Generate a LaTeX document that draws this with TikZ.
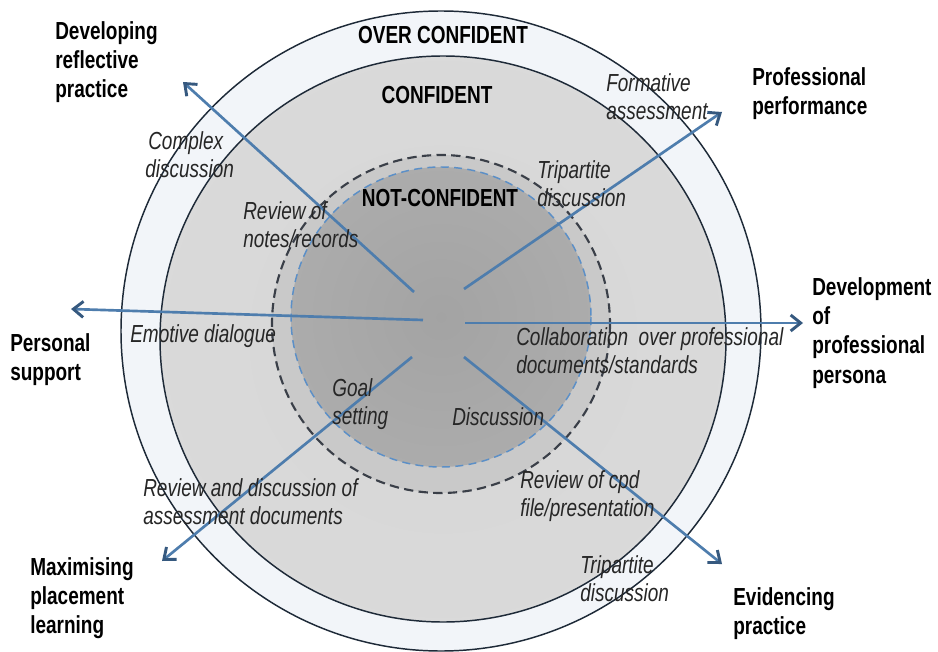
\documentclass[tikz,border=0pt]{standalone}
\usepackage{fontspec}
\setmainfont{Liberation Sans}
\newfontfamily\narrow[FakeStretch=0.77]{Liberation Sans}
\usetikzlibrary{arrows.meta}
\definecolor{ringfill}{HTML}{F2F5F9}
\definecolor{rimline}{HTML}{1E2A38}
\definecolor{midring}{HTML}{C9C9C9}
\definecolor{dashdark}{HTML}{3A3F48}
\definecolor{dashblue}{HTML}{5B8FC7}
\definecolor{arrowblue}{HTML}{4E7DAD}
\definecolor{arrowdark}{HTML}{36597F}
\pgfdeclareradialshading{confshade}{\pgfpointorigin}{rgb(0bp)=(0.84,0.84,0.84); rgb(38bp)=(0.86,0.86,0.86); rgb(50bp)=(0.90,0.90,0.90)}
\pgfdeclareradialshading{innershade}{\pgfpointorigin}{rgb(0bp)=(0.64,0.64,0.64); rgb(30bp)=(0.68,0.68,0.68); rgb(50bp)=(0.79,0.79,0.79)}
\tikzset{
  lbl/.style={font=\narrow\bfseries\fontsize{18.5}{22}\selectfont, align=left, anchor=north west, inner sep=0pt, text=black},
  zone/.style={font=\narrow\bfseries\fontsize{18.5}{21}\selectfont, inner sep=0pt, text=black},
  act/.style={font=\narrow\itshape\fontsize{18.5}{21}\selectfont, align=left, anchor=north west, inner sep=0pt, text=black!85},
  flow/.style={draw=arrowblue, line width=2pt, -{Straight Barb[length=7.5pt,width=12pt,line width=2.2pt,color=arrowdark]}},
  rim/.style={draw=rimline, line width=1.1pt},
}
\begin{document}
\begin{tikzpicture}[x=0.75pt,y=-0.75pt]
\useasboundingbox (0,0) rectangle (938,652);
% rings
\fill[ringfill] (441,331) circle [radius=320];
\draw[rim] (441,331) circle [radius=320];
\shade[shading=confshade] (443,339) circle [radius=283];
\draw[rim] (443,339) circle [radius=283];
\fill[midring] (441,324) circle [radius=169];
\shade[shading=innershade] (441,317) circle [radius=150];
\draw[dashdark, line width=1.6pt, dash pattern=on 7pt off 4pt] (441,324) circle [radius=169];
\draw[dashblue, line width=1.1pt, dash pattern=on 6pt off 4pt] (441,317) circle [radius=150];
% arrows
\coordinate (ul0) at (414,292); \coordinate (ul1) at (183,82);
\coordinate (ur0) at (464,289); \coordinate (ur1) at (722,112);
\coordinate (l0) at (423,320);  \coordinate (l1) at (71,309);
\coordinate (r0) at (465,323);  \coordinate (r1) at (803,323);
\coordinate (dl0) at (412,357); \coordinate (dl1) at (162,561);
\coordinate (dr0) at (464,357); \coordinate (dr1) at (722,564);
\draw[flow] (ul0) -- (ul1);
\draw[flow] (ur0) -- (ur1);
\draw[flow] (l0) -- (l1);
\draw[flow] (r0) -- (r1);
\draw[flow] (dl0) -- (dl1);
\draw[flow] (dr0) -- (dr1);
% zone titles
\node[zone] (over) at (443,35) {OVER CONFIDENT};
\node[zone] (conf) at (437,95) {CONFIDENT};
\node[zone] (notc) at (440,198) {NOT-CONFIDENT};
% outcome labels
\node[lbl] (drp) at (55,21) {Developing\\reflective\\practice};
\node[lbl] (pp) at (752,67) {Professional\\performance};
\node[lbl] (dpp) at (812,277) {Development\\of\\professional\\persona};
\node[lbl] (ps) at (10,333) {Personal\\support};
\node[lbl] (mpl) at (30,557) {Maximising\\placement\\learning};
\node[lbl] (ep) at (733,587) {Evidencing\\practice};
% activity labels
\node[act] (cd) at (145,131) {\hspace*{2.25pt}Complex\\discussion};
\node[act] (fa) at (606,73) {Formative\\assessment};
\node[act] (td1) at (537,160) {Tripartite\\discussion};
\node[act] (rn) at (243,201) {Review of\\notes/records};
\node[act] (ed) at (130,324) {Emotive dialogue};
\node[act] (co) at (516,327) {Collaboration\ \ over professional\\documents/standards};
\node[act] (gs) at (332,378) {Goal\\setting};
\node[act] (di) at (452,407) {Discussion};
\node[act] (rd) at (143,478) {Review and discussion of\\assessment documents};
\node[act] (rc) at (520,470) {Review of cpd\\file/presentation};
\node[act] (td2) at (580,555) {Tripartite\\discussion};
\end{tikzpicture}
\end{document}
